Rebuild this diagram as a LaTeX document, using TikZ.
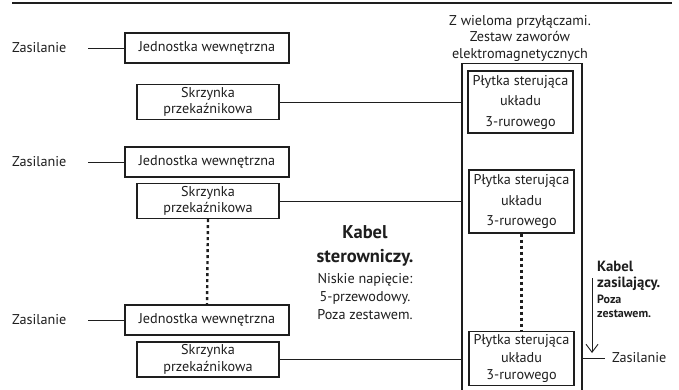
\documentclass[tikz,border=0pt]{standalone}
\usepackage{fontspec}
\setmainfont{PT Sans}
\usetikzlibrary{arrows.meta,positioning}
\definecolor{wireblack}{RGB}{30, 30, 30}

\tikzset{
  txt/.style={font=\fontsize{14.2}{16.5}\selectfont, text=wireblack, inner sep=0pt, align=center},
  unitbox/.style={txt, draw=wireblack, line width=1.1pt},
  wire/.style={wireblack, line width=0.9pt},
  dots/.style={wireblack, line width=2.4pt, dash pattern=on 3pt off 3pt}
}

\begin{document}
\begin{tikzpicture}[x=1pt, y=-1pt]
\clip (0,0) rectangle (679,390);
\draw[wireblack, line width=1.5pt] (12,3) -- (672,3);
% indoor units and relay boxes
\foreach \i/\yj/\ys in {1/48/102, 2/162/201, 3/320/359.5} {
    \node[txt, anchor=west] (zas\i) at (12,\yj) {Zasilanie};
    \node[unitbox, minimum width=164pt, minimum height=30pt] (ju\i) at (207,\yj) {Jednostka wewnętrzna};
    \node[unitbox, minimum width=142pt, minimum height=35pt] (sp\i) at (208,\ys) {Skrzynka\\przekaźnikowa};
    \draw[wire] (88,\yj) -- (ju\i.west);
}
\draw[dots] (sp2.south) -- (ju3.north);
% valve kit
\node[txt] (tytul) at (520,38) {Z wieloma przyłączami.\\Zestaw zaworów\\elektromagnetycznych};
\node[draw=wireblack, line width=1.1pt, minimum width=120pt, minimum height=340pt, anchor=north] (zestaw) at (522,63) {};
\node[unitbox, minimum width=105pt, minimum height=62pt, font=\fontsize{14.2}{20.5}\selectfont] (pc1) at (520.5,102) {Płytka sterująca\\układu\\3-rurowego};
\node[unitbox, minimum width=105pt, minimum height=63pt, font=\fontsize{14.2}{20.5}\selectfont] (pc2) at (521.5,201.5) {Płytka sterująca\\układu\\3-rurowego};
\node[unitbox, minimum width=105pt, minimum height=54pt, font=\fontsize{14.2}{17.5}\selectfont] (pc3) at (521.5,358.5) {Płytka sterująca\\układu\\3-rurowego};
\draw[dots] (pc2.south) -- (pc3.north);
\foreach \i in {1,2,3} {
    \draw[wire] (sp\i.east) -- (sp\i.east -| zestaw.west);
}
% control cable
\node[txt, font=\bfseries\fontsize{18.5}{24}\selectfont] (kabster) at (365,246) {Kabel\\sterowniczy.};
\node[txt, font=\fontsize{14.2}{18}\selectfont] (kabopis) at (365,297) {Niskie napięcie:\\5-przewodowy.\\Poza zestawem.};
% power cable
\node[txt, anchor=west] (zas4) at (612,358) {Zasilanie};
\draw[wire] (zas4.west -| zestaw.east) -- ([xshift=-7pt]zas4.west);
\node[txt, anchor=north west, font=\fontsize{14.8}{16}\selectfont\bfseries, align=left] (kabzas) at (597,261) {Kabel\\zasilający.};
\node[txt, font=\fontsize{12}{13.5}\selectfont\bfseries, align=left, below=4pt of kabzas.south west, anchor=north west] (pozazes) {Poza\\zestawem.};
\coordinate (strzg) at (592,278);
\coordinate (strzd) at (592,353);
\draw[wire, -{Straight Barb[length=8pt, width=12pt]}] (strzg) -- (strzd);
\end{tikzpicture}
\end{document}
